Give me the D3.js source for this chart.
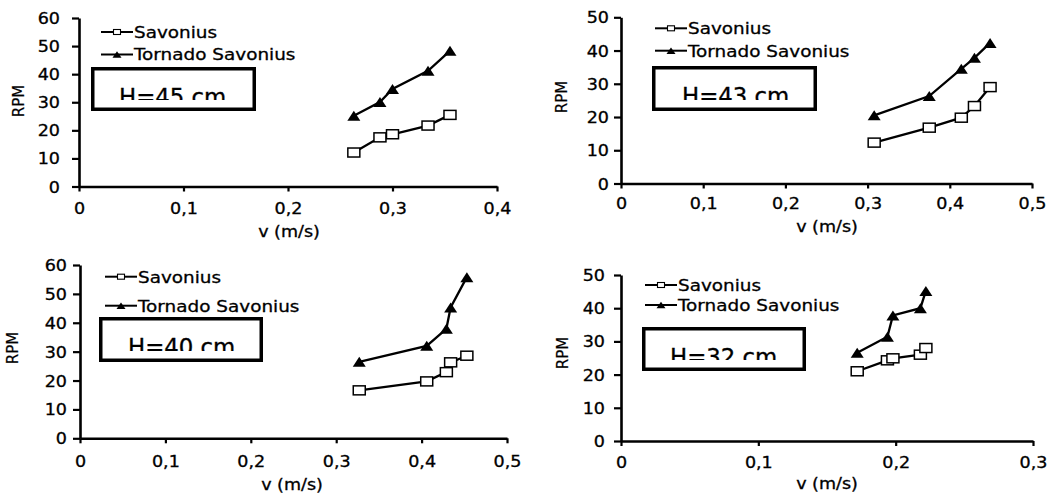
<!DOCTYPE html>
<html>
<head>
<meta charset="utf-8">
<script src="https://cdn.jsdelivr.net/npm/d3@7"></script>
<style>
  html, body { margin: 0; padding: 0; background: #fff; }
  svg { display: block; }
  text { font-family: "DejaVu Sans", Verdana, sans-serif; fill: #000; stroke: #000; stroke-width: 0.3px; }
</style>
</head>
<body>
<svg id="chart" width="1051" height="493"></svg>
<script>
// ---------------- DATA ----------------
const seriesNames = ["Savonius", "Tornado Savonius"];
const heightLabels = ["H=45 cm", "H=43 cm", "H=40 cm", "H=32 cm"];
const xAxisTitle = "v (m/s)";
const yAxisTitle = "RPM";

// H = 45 cm
const v45 = [0.263, 0.288, 0.300, 0.334, 0.355];
const savonius45 = [12.1, 17.5, 18.6, 21.7, 25.5];
const tornado45 = [25.2, 30.1, 34.7, 41.2, 48.3];

// H = 43 cm
const v43 = [0.308, 0.375, 0.414, 0.430, 0.449];
const savonius43 = [12.3, 16.8, 19.8, 23.3, 29.0];
const tornado43 = [20.5, 26.3, 34.5, 37.8, 42.3];

// H = 40 cm
const v40 = [0.327, 0.406, 0.429, 0.434, 0.453];
const savonius40 = [16.6, 19.7, 22.9, 26.3, 28.6];
const tornado40 = [26.5, 32.0, 37.9, 45.3, 55.8];

// H = 32 cm
const v32 = [0.172, 0.194, 0.198, 0.218, 0.222];
const savonius32 = [21.0, 24.3, 24.9, 26.0, 28.0];
const tornado32 = [26.6, 31.4, 37.8, 40.0, 45.2];

// tick values
const xTicks04 = [0, 0.1, 0.2, 0.3, 0.4];
const xTicks05 = [0, 0.1, 0.2, 0.3, 0.4, 0.5];
const xTicks03 = [0, 0.1, 0.2, 0.3];
const yTicks60 = [0, 10, 20, 30, 40, 50, 60];
const yTicks50 = [0, 10, 20, 30, 40, 50];

// ---------------- LAYOUT ----------------
const layouts = [
  { x0: 79,  x1: 497,  yTop: 18,   yBot: 186.5, legX: 101, legY: [32, 54.5],    box: [91, 67, 165, 44],  boxTextX: 119, rpm: [18, 101], xlab: [289, 237], xTickDy: 27, yLabGap: 19 },
  { x0: 621, x1: 1032, yTop: 17.3, yBot: 183.5, legX: 655, legY: [28.3, 50.7],  box: [652, 66, 165, 45], boxTextX: 682, rpm: [561, 97], xlab: [827, 232], xTickDy: 25, yLabGap: 12 },
  { x0: 80,  x1: 507,  yTop: 265,  yBot: 438.3, legX: 105, legY: [276.7, 305.7], box: [99, 317, 164, 45], boxTextX: 128, rpm: [12, 348], xlab: [292, 490], xTickDy: 29, yLabGap: 13 },
  { x0: 621, x1: 1033, yTop: 275,  yBot: 441,   legX: 645, legY: [285, 305],    box: [642, 327, 164, 44], boxTextX: 670, rpm: [562, 353], xlab: [827, 489], xTickDy: 27, yLabGap: 16 }
];

const panelData = [
  { v: v45, sav: savonius45, tor: tornado45, xTicks: xTicks04, yTicks: yTicks60, label: heightLabels[0] },
  { v: v43, sav: savonius43, tor: tornado43, xTicks: xTicks05, yTicks: yTicks50, label: heightLabels[1] },
  { v: v40, sav: savonius40, tor: tornado40, xTicks: xTicks05, yTicks: yTicks60, label: heightLabels[2] },
  { v: v32, sav: savonius32, tor: tornado32, xTicks: xTicks03, yTicks: yTicks50, label: heightLabels[3] }
];

const SX = 1.17; // horizontal stretch of the reference text
const locale = d3.formatLocale({ decimal: ",", thousands: ".", grouping: [3], currency: ["", ""] });
const fmt = locale.format("~g");

const svg = d3.select("#chart");
svg.append("rect").attr("width", 1051).attr("height", 493).attr("fill", "#fff");
const defs = svg.append("defs");

function squareMarker(g, cx, cy, w, h, sw) {
  g.append("rect").attr("x", cx - w / 2).attr("y", cy - h / 2).attr("width", w).attr("height", h)
    .attr("fill", "#fff").attr("stroke", "#000").attr("stroke-width", sw);
}
function triMarker(g, cx, cy, w, h) {
  g.append("path")
    .attr("d", `M${cx},${cy - h / 2}L${cx + w / 2},${cy + h / 2}L${cx - w / 2},${cy + h / 2}Z`)
    .attr("fill", "#000");
}

panelData.forEach((P, i) => {
  const L = layouts[i];
  const g = svg.append("g");
  const x = d3.scaleLinear().domain([0, d3.max(P.xTicks)]).range([L.x0, L.x1]);
  const y = d3.scaleLinear().domain([0, d3.max(P.yTicks)]).range([L.yBot, L.yTop]);

  // Y axis
  const ya = g.append("g").attr("transform", `translate(${L.x0},0)`)
    .call(d3.axisLeft(y).tickValues(P.yTicks).tickFormat(fmt).tickSize(7).tickPadding(L.yLabGap - 7).tickSizeOuter(0));
  ya.select(".domain").attr("stroke", "#000").attr("stroke-width", 2.6);
  ya.selectAll(".tick line").attr("stroke", "#000").attr("stroke-width", 2.2);
  ya.selectAll(".tick text").each(function () {
    const t = d3.select(this);
    const tx = +t.attr("x");
    t.attr("x", 0).attr("dy", null)
      .attr("y", 5.5)
      .attr("transform", `translate(${tx},0) scale(${SX},1)`)
      .attr("font-size", 15).attr("font-family", "DejaVu Sans").attr("fill", "#000");
  });

  // X axis
  const xa = g.append("g").attr("transform", `translate(0,${L.yBot})`)
    .call(d3.axisBottom(x).tickValues(P.xTicks).tickFormat(fmt).tickSize(5).tickSizeOuter(0));
  xa.select(".domain").attr("stroke", "#000").attr("stroke-width", 2.6);
  xa.selectAll(".tick line").attr("stroke", "#000").attr("stroke-width", 2.2);
  xa.selectAll(".tick text").each(function () {
    d3.select(this).attr("y", 0).attr("dy", null)
      .attr("transform", `translate(0,${L.xTickDy}) scale(${SX},1)`)
      .attr("font-size", 15).attr("font-family", "DejaVu Sans").attr("fill", "#000");
  });

  // axis titles
  g.append("text").attr("transform", `translate(${L.xlab[0]},${L.xlab[1]}) scale(${SX},1)`)
    .attr("text-anchor", "middle").attr("font-size", 15).text(xAxisTitle);
  g.append("text").attr("transform", `translate(${L.rpm[0] + 6},${L.rpm[1]}) rotate(-90)`)
    .attr("text-anchor", "middle").attr("font-size", 15).style("stroke-width", "0.2px").text(yAxisTitle);

  // series
  const line = d3.line().x(d => x(d[0])).y(d => y(d[1]));
  const savPts = d3.zip(P.v, P.sav);
  const torPts = d3.zip(P.v, P.tor);
  g.append("path").attr("d", line(savPts)).attr("fill", "none").attr("stroke", "#000").attr("stroke-width", 2.3);
  g.append("path").attr("d", line(torPts)).attr("fill", "none").attr("stroke", "#000").attr("stroke-width", 2.3);
  savPts.forEach(d => squareMarker(g, x(d[0]), y(d[1]), 12, 9, 1.5));
  torPts.forEach(d => triMarker(g, x(d[0]), y(d[1]), 13, 10));

  // legend
  seriesNames.forEach((name, k) => {
    const ly = L.legY[k];
    g.append("line").attr("x1", L.legX).attr("x2", L.legX + 32).attr("y1", ly).attr("y2", ly)
      .attr("stroke", "#000").attr("stroke-width", 2);
    if (k === 0) squareMarker(g, L.legX + 16, ly, 7, 5, 1.1);
    else triMarker(g, L.legX + 16, ly, 9, 6.5);
    g.append("text").attr("transform", `translate(${L.legX + 33},${ly + 5.8}) scale(1.15,1)`)
      .attr("font-size", 16).text(name);
  });

  // height box
  const [bx, by, bw, bh] = L.box;
  g.append("rect").attr("x", bx + 1.75).attr("y", by + 1.75).attr("width", bw - 3.5).attr("height", bh - 3.5)
    .attr("fill", "#fff").attr("stroke", "#000").attr("stroke-width", 3.5);
  const cid = "clip" + i;
  defs.append("clipPath").attr("id", cid).append("rect")
    .attr("x", bx + 4).attr("y", by + 4).attr("width", bw - 8).attr("height", bh - 15);
  g.append("g").attr("clip-path", `url(#${cid})`)
    .append("text").attr("transform", `translate(${L.boxTextX},${by + 38}) scale(1.14,1.12)`)
    .attr("font-size", 20).text(P.label);
});
</script>
</body>
</html>
